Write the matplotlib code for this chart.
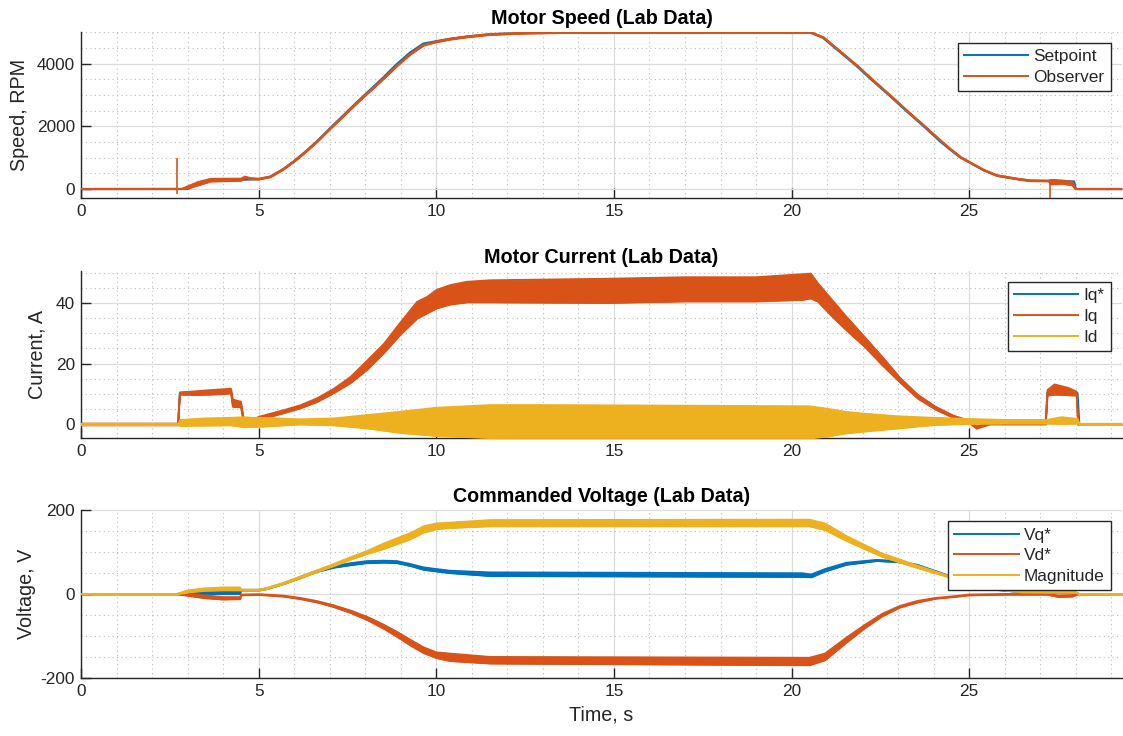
import matplotlib
matplotlib.use("Agg")
import matplotlib.pyplot as plt
from matplotlib.ticker import MultipleLocator

plt.rcParams['font.family'] = ['Liberation Sans', 'DejaVu Sans']
plt.rcParams['axes.unicode_minus'] = False

# ---------------- DATA ----------------
# Motor speed, RPM
sp_t = [0, 3.0, 3.3, 3.7, 4.5, 5.0, 5.33, 5.70, 5.98, 6.27, 6.64, 7.02, 7.39, 7.77, 8.14, 8.52, 8.89,
        9.27, 9.64, 10.0, 10.39, 10.86, 11.52, 12.5, 13.5, 20.52, 20.88, 21.35, 21.82, 22.29, 22.76,
        23.23, 23.70, 24.17, 24.47, 24.74, 25.0, 25.4, 25.77, 26.36, 26.73, 27.23, 27.95, 28.0, 29.3]
sp_v = [0, 0, 150, 290, 295, 310, 390, 640, 875, 1145, 1520, 1950, 2355, 2775, 3165, 3570, 3985,
        4360, 4640, 4715, 4790, 4860, 4935, 4975, 4995, 4998, 4827, 4380, 3933, 3445, 2976,
        2488, 2020, 1531, 1250, 1010, 850, 600, 430, 319, 265, 258, 240, 0, 0]

obs_t = [0, 2.84, 3.0, 3.3, 3.65, 4.0, 4.5, 4.61, 4.75, 5.0, 5.33, 5.70, 5.98, 6.27, 6.64, 7.02, 7.39,
         7.77, 8.14, 8.52, 8.89, 9.27, 9.64, 10.0, 10.39, 10.86, 11.52, 12.5, 13.5, 20.54, 20.91,
         21.38, 21.85, 22.32, 22.79, 23.26, 23.73, 24.2, 24.5, 24.77, 25.02, 25.42, 25.79, 26.36,
         26.73, 27.23, 27.3, 27.6, 27.9, 27.98, 28.05, 29.3]
obs_lo = [-4, 0, 20, 120, 240, 250, 265, 360, 320, 305, 378, 623, 856, 1123, 1494, 1921, 2323,
          2738, 3121, 3516, 3918, 4291, 4578, 4684, 4768, 4840, 4918, 4958, 4978, 4981, 4812,
          4365, 3918, 3430, 2961, 2473, 2005, 1525, 1235, 995, 835, 585, 415, 304,
          250, 245, 150, 170, 120, 0, -4, -4]
obs_hi = [8, 10, 90, 230, 330, 335, 335, 400, 360, 335, 408, 653, 886, 1153, 1524, 1951, 2353,
          2768, 3151, 3546, 3948, 4321, 4608, 4714, 4802, 4876, 4952, 4992, 5012, 5015, 4842,
          4395, 3948, 3460, 2991, 2503, 2035, 1555, 1265, 1025, 865, 615, 445, 334,
          280, 272, 300, 280, 240, 30, 8, 8]
spike_t = [2.69, 27.26]
spike_lo = [-170, -297]
spike_hi = [980, 260]

# Motor current, A
iqs_t = [0, 2.73, 2.78, 4.22, 4.27, 4.5, 4.58, 5.0, 5.70, 6.17, 6.64, 7.11, 7.58, 8.05, 8.52, 8.99,
         9.46, 9.74, 10.0, 10.39, 10.86, 11.52, 20.5, 21.14, 21.54, 22.05, 22.55, 23.05, 23.55,
         24.06, 24.56, 25.0, 25.2, 25.57, 27.15, 27.2, 28.05, 28.1, 29.3]
iqs_v = [0, 0, 10.2, 11.0, 7.0, 6.5, 1.0, 2.0, 4.2, 5.8, 8.0, 11.0, 14.6, 19.5, 25.0, 31.6,
         37.6, 39.3, 41.2, 42.7, 43.6, 43.8, 45.0, 38.0, 33.0, 27.2, 21.0, 14.6, 9.1,
         5.3, 2.5, 0.9, -1.0, 0.3, 0.3, 10.5, 10.3, 0, 0]

iq_t = [0, 2.73, 2.78, 3.2, 3.6, 4.0, 4.22, 4.27, 4.5, 4.58, 4.7, 5.0, 5.70, 6.17, 6.64, 7.11, 7.58,
        8.05, 8.52, 8.99, 9.46, 9.74, 10.0, 10.39, 10.86, 11.52, 14.8, 17.0, 19.0, 20.3, 20.54,
        20.74, 21.14, 21.54, 22.05, 22.55, 23.05, 23.55, 24.06, 24.56, 25.0, 25.2, 25.57, 27.15,
        27.2, 27.4, 27.8, 28.02, 28.06, 29.3]
iq_lo = [-0.3, -0.3, 9.8, 9.7, 9.8, 10.0, 10.2, 5.8, 5.6, 0.5, -0.5, 1.5, 3.7, 5.3, 7.4, 10.3, 13.6,
         18.0, 23.5, 29.6, 34.9, 36.6, 38.2, 39.5, 40.2, 40.2, 40.0, 40.5, 40.5, 41.0, 41.5,
         40.4, 35.5, 31.0, 25.6, 19.5, 13.8, 8.5, 4.8, 2.1, 0.5, -1.4, 0.0, 0.0,
         9.5, 9.8, 9.6, 9.5, -0.2, -0.2]
iq_hi = [0.3, 0.3, 10.6, 10.9, 11.3, 11.6, 11.8, 8.2, 7.5, 1.5, 0.8, 2.5, 4.7, 6.3, 8.6, 11.7, 15.6,
         21.0, 26.5, 33.6, 40.4, 42.0, 44.3, 45.9, 47.0, 47.5, 48.0, 48.5, 48.5, 49.5, 49.7,
         46.5, 41.0, 35.5, 28.9, 22.3, 15.4, 9.8, 5.8, 2.9, 1.3, -0.6, 0.6, 0.6,
         11.3, 13.2, 12.0, 10.8, 0.2, 0.2]

id_t = [0, 2.73, 2.8, 3.5, 4.2, 4.6, 4.8, 5.0, 6.17, 7.11, 8.05, 8.99, 10.0, 11.52, 13.0, 20.5, 21.0,
        21.5, 22.0, 23.0, 24.0, 25.0, 26.0, 27.2, 27.6, 28.05, 28.1, 29.3]
id_lo = [-0.2, -0.2, -0.5, -0.4, -0.3, -0.9, -0.8, -0.8, 0.0, -0.3, -1.3, -2.8, -3.8, -4.5, -4.6, -4.6,
         -4.0, -3.0, -2.4, -1.3, -0.2, 0.2, 0.3, 0.3, 0.2, 0.3, -0.2, -0.2]
id_hi = [0.2, 0.2, 1.5, 2.0, 2.2, 2.4, 2.2, 2.2, 1.7, 2.0, 3.1, 4.2, 5.5, 6.4, 6.4, 6.0,
         5.2, 4.2, 3.6, 2.7, 2.2, 1.8, 1.5, 1.5, 2.4, 1.8, 0.2, 0.2]

# Commanded voltage, V
vq_t = [0, 2.7, 3.0, 3.5, 4.48, 4.5, 5.0, 5.23, 5.70, 6.17, 6.64, 7.11, 7.58, 8.05, 8.52, 8.89, 9.27,
        9.64, 10.0, 10.39, 11.52, 20.3, 20.55, 20.94, 21.54, 22.4, 23.0, 23.55, 24.2, 24.8, 25.5,
        26.5, 27.2, 28.0, 28.1, 29.3]
vq_lo = [-0.5, -0.5, 0, 0, 0, 8.5, 8.5, 12, 24, 38, 53, 63, 69, 74, 75, 74, 67,
         58, 54, 50, 43, 41, 40, 54, 70, 79, 76, 67, 48, 30, 12, 4, 3, 2, -0.5, -0.5]
vq_hi = [0.5, 0.5, 4, 7, 8, 10.5, 10.5, 14, 26, 41, 56, 67, 74, 79, 80, 79, 72,
         64, 60, 56, 52, 50, 47, 60, 75, 82, 79, 70, 51, 33, 14, 6, 5, 4, 0.5, 0.5]

vd_t = [0, 2.7, 3.0, 3.5, 4.0, 4.48, 4.5, 5.0, 5.70, 6.17, 6.64, 7.11, 7.58, 8.05, 8.52, 8.89, 9.27,
        9.64, 10.0, 10.39, 11.52, 20.5, 20.94, 21.54, 22.05, 22.55, 23.05, 23.55, 24.06, 24.56,
        25.0, 26.0, 27.2, 27.5, 27.9, 28.05, 29.3]
vd_lo = [-0.5, -0.5, -4, -10, -13, -12, -3, -2, -6, -12, -20, -31, -45, -62, -83, -102, -123,
         -141, -153, -160, -166, -170, -158, -116, -82, -53, -32, -20, -11, -7,
         -3, -1.5, -1.5, -7, -6, -1, -0.5]
vd_hi = [0.5, 0.5, 0, -3, -7, -7, -1, 0, -3.5, -9, -16.5, -26.5, -39, -54, -73, -90, -109,
         -127, -139, -142, -150, -152, -142, -104, -74, -47, -28, -16, -9, -5,
         -1, 0.5, 0.5, -3, -2, 0.5, 0.5]

vm_t = [0, 2.7, 3.0, 3.5, 4.0, 4.48, 4.5, 5.0, 5.23, 5.70, 6.17, 6.64, 7.11, 7.58, 8.05, 8.52, 9.27,
        9.64, 10.0, 10.39, 11.52, 20.5, 20.94, 21.54, 22.55, 23.55, 24.3, 25.0, 25.5, 26.5, 28.0,
        28.1, 29.3]
vm_lo = [-0.5, -0.5, 4, 8, 9, 9, 8.5, 8.5, 12, 24, 38, 53, 67, 82, 96, 108, 131,
         147, 155, 158, 162, 162, 153, 127, 89, 62, 43, 28, 13, 4, 3, -0.5, -0.5]
vm_hi = [0.5, 0.5, 9, 14, 16, 16, 10.5, 10.5, 15, 27, 42, 57, 72, 88, 103, 121, 146,
         162, 169, 171, 177, 178, 169, 139, 97, 68, 47, 31, 15, 6, 5, 0.5, 0.5]

# ---------------- STYLE ----------------
BLUE = '#0072BD'
ORANGE = '#D95319'
YELLOW = '#EDB120'
DARK = '#262626'
TICK_FS = 12.4
LABEL_FS = 14.2
W, H = 1123, 736

fig = plt.figure(figsize=(W / 100, H / 100), dpi=100)


def make_axes(top_px, bottom_px):
    left, right = 81, 1122
    return fig.add_axes([left / W, 1 - bottom_px / H, (right - left) / W, (bottom_px - top_px) / H])


def style(ax, ylim, ymajor, yminor, title, ylabel, labelpad):
    ax.set_xlim(0, 29.3)
    ax.set_ylim(*ylim)
    ax.xaxis.set_major_locator(MultipleLocator(5))
    ax.xaxis.set_minor_locator(MultipleLocator(1))
    ax.yaxis.set_major_locator(MultipleLocator(ymajor))
    ax.yaxis.set_minor_locator(MultipleLocator(yminor))
    ax.grid(True, which='major', color='#dcdcdc', lw=0.9, ls='-')
    ax.grid(True, which='minor', color='#bdbdbd', lw=0.8, ls=(0, (1, 3)))
    ax.set_axisbelow(True)
    for s in ('top', 'right'):
        ax.spines[s].set_visible(False)
    for s in ('left', 'bottom'):
        ax.spines[s].set_color(DARK)
        ax.spines[s].set_linewidth(1.0)
    ax.tick_params(which='major', direction='in', length=7.2, width=1.0, color=DARK,
                   labelsize=TICK_FS, labelcolor=DARK, pad=4.3)
    ax.tick_params(which='minor', length=0)
    ax.set_title(title, fontsize=LABEL_FS, fontweight='bold', pad=5.8, color='black')
    ax.set_ylabel(ylabel, fontsize=LABEL_FS, color=DARK, labelpad=labelpad)


def legend(ax):
    leg = ax.legend(loc='upper right', fontsize=TICK_FS, frameon=True, fancybox=False,
                    framealpha=1, edgecolor=DARK, borderpad=0.36, labelspacing=0.33,
                    handlelength=3.75, handletextpad=0.3, borderaxespad=0.65)
    leg.get_frame().set_linewidth(1.0)
    for t in leg.get_texts():
        t.set_color(DARK)
    for l in leg.get_lines():
        l.set_linewidth(1.4)
    leg.set_zorder(10)


def band(ax, t, lo, hi, color, label, z):
    ax.fill_between(t, lo, hi, color=color, lw=0.8, edgecolor=color, zorder=z)
    ax.plot(t, lo, color=color, lw=1.1, zorder=z, label=label)
    ax.plot(t, hi, color=color, lw=1.1, zorder=z)


# ---- Speed ----
ax1 = make_axes(31.7, 198.3)
ax1.plot(sp_t, sp_v, color=BLUE, lw=1.6, zorder=2, label='Setpoint')
band(ax1, obs_t, obs_lo, obs_hi, ORANGE, 'Observer', 3)
ax1.vlines(spike_t, spike_lo, spike_hi, color=ORANGE, lw=1.2, zorder=3)
style(ax1, (-297, 5018), 2000, 500, 'Motor Speed (Lab Data)', 'Speed, RPM', 6)
legend(ax1)

# ---- Current ----
ax2 = make_axes(271.0, 438.3)
ax2.plot(iqs_t, iqs_v, color=BLUE, lw=1.4, zorder=2, label='Iq*')
band(ax2, iq_t, iq_lo, iq_hi, ORANGE, 'Iq', 3)
band(ax2, id_t, id_lo, id_hi, YELLOW, 'Id', 4)
style(ax2, (-4.6, 50.5), 20, 5, 'Motor Current (Lab Data)', 'Current, A', 7)
legend(ax2)

# ---- Voltage ----
ax3 = make_axes(510.3, 677.7)
band(ax3, vq_t, vq_lo, vq_hi, BLUE, 'Vq*', 2)
band(ax3, vd_t, vd_lo, vd_hi, ORANGE, 'Vd*', 3)
band(ax3, vm_t, vm_lo, vm_hi, YELLOW, 'Magnitude', 4)
style(ax3, (-200, 200), 200, 50, 'Commanded Voltage (Lab Data)', 'Voltage, V', 3)
ax3.set_xlabel('Time, s', fontsize=LABEL_FS, color=DARK, labelpad=5)
legend(ax3)

fig.savefig('out.png', dpi=100)
